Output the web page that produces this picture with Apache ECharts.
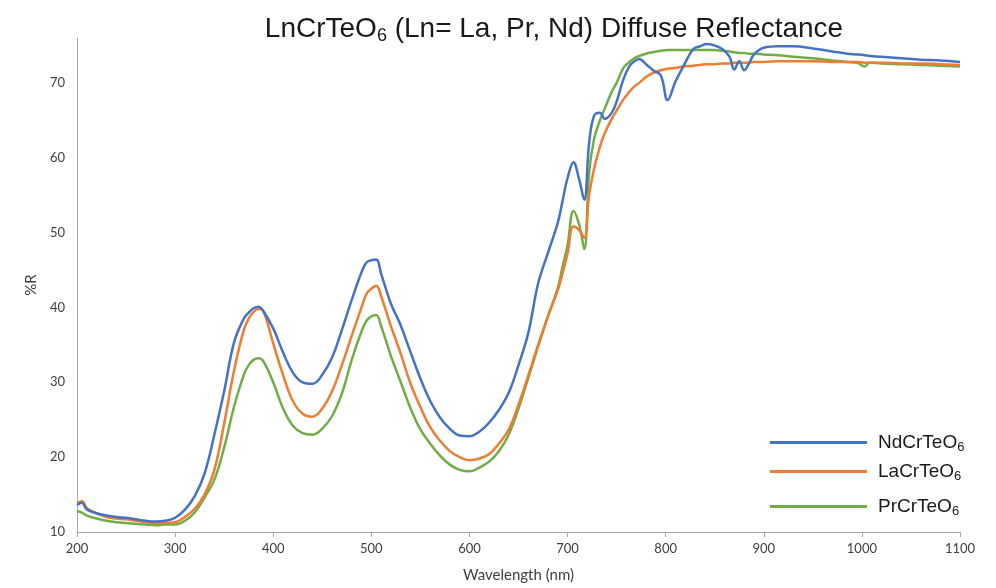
<!DOCTYPE html>
<html>
<head>
<meta charset="utf-8">
<script src="https://cdn.jsdelivr.net/npm/echarts@6/dist/echarts.min.js"></script>
<style>
html,body{margin:0;padding:0;background:#fff;}
#chart{width:996px;height:588px;}
</style>
</head>
<body>
<div id="chart"></div>
<script>
const wavelengths = [200,205,210,220,230,240,250,260,270,280,290,300,310,320,330,340,350,360,370,375,380,385,390,400,410,420,430,440,450,460,470,480,490,495,500,505,510,520,530,540,550,560,570,580,590,600,610,620,630,640,650,660,670,680,690,695,700,706,712,717,722,727,733,738,745,750,757,763,768,773,780,787,795,802,810,818,828,835,842,850,858,865,870,875,880,885,890,900,915,930,950,970,985,995,1003,1008,1020,1040,1060,1080,1100];

const ndValues = [13.6,13.9,13.0,12.5,12.2,12.0,11.9,11.7,11.5,11.4,11.5,11.9,13.0,14.8,17.8,23.0,28.8,35.3,38.5,39.3,39.9,40.1,39.5,37.2,34.0,31.3,30.0,29.8,31.0,33.3,37.0,41.0,44.7,46.0,46.3,46.4,44.5,40.5,37.6,34.0,30.5,27.5,25.3,23.8,22.9,22.8,23.4,24.6,26.3,28.6,32.3,36.6,43.2,47.3,51.3,54.3,57.3,59.4,57.0,54.4,62.0,65.6,66.0,65.2,66.0,67.5,70.5,72.2,72.9,73.2,72.5,71.7,71.0,67.7,70.2,72.2,74.5,74.9,75.2,75.0,74.5,73.5,71.8,72.9,71.7,72.6,73.8,74.7,74.9,74.9,74.6,74.2,73.9,73.8,73.7,73.6,73.5,73.3,73.1,73.0,72.8];

const laValues = [13.9,14.1,13.2,12.5,12.0,11.8,11.7,11.5,11.3,11.2,11.2,11.3,12.0,13.1,15.0,18.3,24.5,31.5,37.0,38.5,39.4,39.8,39.5,35.2,31.0,27.5,25.8,25.4,26.5,28.8,32.3,36.2,40.0,41.8,42.5,42.9,41.5,37.5,33.8,29.8,26.7,24.0,22.2,20.8,20.0,19.6,19.8,20.4,21.8,23.7,27.0,30.9,35.0,38.8,42.3,44.6,47.2,50.8,50.3,49.3,55.0,58.5,61.5,63.3,65.2,66.3,67.8,68.8,69.5,70.0,70.8,71.3,71.7,71.9,72.0,72.2,72.3,72.4,72.5,72.5,72.6,72.6,72.7,72.7,72.7,72.7,72.8,72.8,72.9,72.9,72.9,72.8,72.8,72.8,72.7,72.7,72.7,72.6,72.6,72.5,72.4];

const prValues = [12.8,12.6,12.2,11.8,11.5,11.3,11.2,11.1,11.0,10.9,11.0,11.0,11.5,12.6,14.6,17.0,21.3,26.7,31.0,32.3,33.0,33.2,32.8,30.0,26.5,24.2,23.2,23.0,23.8,25.5,28.5,33.0,36.8,38.2,38.8,39.0,37.5,33.5,30.0,26.5,23.7,21.8,20.2,19.0,18.3,18.1,18.6,19.4,20.8,23.0,26.5,30.6,34.8,38.8,42.6,45.5,48.3,52.9,51.0,47.8,58.0,62.5,65.0,66.6,68.8,70.0,72.0,72.8,73.3,73.6,73.9,74.1,74.3,74.4,74.4,74.4,74.4,74.4,74.4,74.4,74.3,74.2,74.1,74.0,74.0,73.9,73.9,73.8,73.7,73.5,73.3,73.0,72.8,72.7,72.2,72.7,72.6,72.5,72.4,72.3,72.2];

const xTicks = {min: 200, max: 1100, interval: 100};
const yTicks = {min: 10, max: 76, interval: 10};

const seriesNames = ['NdCrTeO6', 'LaCrTeO6', 'PrCrTeO6'];
const seriesValues = [ndValues, laValues, prValues];
const seriesColors = ['#4472C4', '#ED7D31', '#70AD47'];
const legendTops = [428, 457, 492];

const chart = echarts.init(document.getElementById('chart'));

const toPairs = vals => wavelengths.map((w, i) => [w, vals[i]]);

const legendRich = {
  a: {fontFamily: 'Liberation Sans', fontSize: 19, color: '#1a1a1a'},
  s: {fontFamily: 'Liberation Sans', fontSize: 13, color: '#1a1a1a', verticalAlign: 'bottom', padding: [10, 0, 0, 0]}
};

chart.setOption({
  animation: false,
  backgroundColor: '#ffffff',
  title: {
    text: '{a|LnCrTeO}{s|6}{a| (Ln= La, Pr, Nd) Diffuse Reflectance}',
    left: 549,
    textAlign: 'center',
    top: 8,
    textStyle: {
      rich: {
        a: {fontFamily: 'Liberation Sans', fontSize: 28, fontWeight: 'normal', color: '#1a1a1a'},
        s: {fontFamily: 'Liberation Sans', fontSize: 18, fontWeight: 'normal', color: '#1a1a1a', verticalAlign: 'bottom', padding: [14, 0, 0, 0]}
      }
    }
  },
  legend: seriesNames.map((n, i) => ({
    data: [n],
    left: 765,
    top: legendTops[i],
    itemWidth: 97,
    itemHeight: 3,
    itemGap: 0,
    icon: 'rect',
    formatter: name => '{a|' + name.slice(0, -1) + '}{s|' + name.slice(-1) + '}',
    textStyle: {rich: legendRich, padding: [0, 0, 0, 6]}
  })),
  grid: {left: 77, right: 36, top: 38, bottom: 56, containLabel: false},
  xAxis: {
    type: 'value',
    min: xTicks.min,
    max: xTicks.max,
    interval: xTicks.interval,
    name: 'Wavelength (nm)',
    nameLocation: 'middle',
    nameGap: 36,
    nameTextStyle: {fontFamily: 'Lato', fontSize: 15, color: '#404040'},
    axisLine: {lineStyle: {color: '#a6a6a6', width: 1}},
    axisTick: {show: true, length: 5, lineStyle: {color: '#a6a6a6'}},
    axisLabel: {fontFamily: 'Lato', fontSize: 13, color: '#404040', margin: 10, formatter: v => String(v)},
    splitLine: {show: false}
  },
  yAxis: {
    type: 'value',
    min: yTicks.min,
    max: yTicks.max,
    interval: yTicks.interval,
    name: '%R',
    nameLocation: 'middle',
    nameGap: 38,
    nameTextStyle: {fontFamily: 'Lato', fontSize: 15, color: '#404040'},
    axisLine: {show: true, lineStyle: {color: '#a6a6a6', width: 1}},
    axisTick: {show: false},
    axisLabel: {fontFamily: 'Lato', fontSize: 13, color: '#404040', margin: 12, showMaxLabel: false},
    splitLine: {show: false}
  },
  series: seriesNames.map((n, i) => ({
    name: n,
    type: 'line',
    data: toPairs(seriesValues[i]),
    showSymbol: false,
    smooth: 0.4,
    color: seriesColors[i],
    lineStyle: {width: 2.5, color: seriesColors[i]},
    z: 3 - i
  }))
});
</script>
</body>
</html>
